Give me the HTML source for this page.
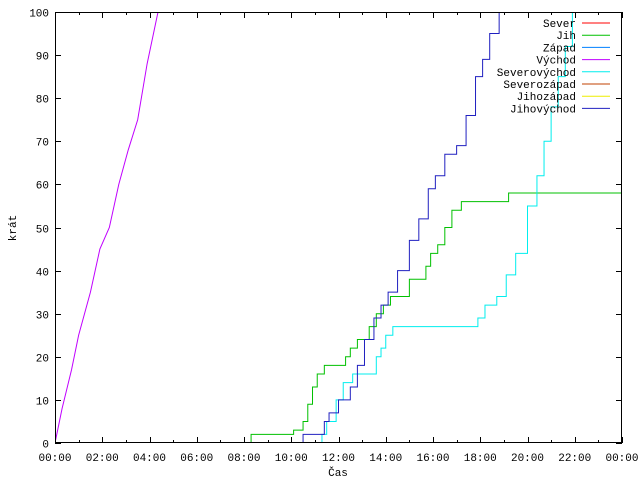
<!DOCTYPE html>
<html><head><meta charset="utf-8"><style>
body{margin:0;background:#fff}
svg{display:block;font-family:"Liberation Mono","DejaVu Sans Mono",monospace;font-size:11px}
</style></head><body>
<svg id="chart" width="640" height="480" xmlns="http://www.w3.org/2000/svg">
<rect width="640" height="480" fill="#fff"/>
<g id="series"></g>
<g id="axes"></g>
<g id="legend"></g>
<text x="338" y="476" text-anchor="middle">Čas</text>
<text x="16" y="228" text-anchor="middle" transform="rotate(-90 16 228)">krát</text>
</svg>
<script>
const yTicks=[0,10,20,30,40,50,60,70,80,90,100];
const xTickLabels=["00:00","02:00","04:00","06:00","08:00","10:00","12:00","14:00","16:00","18:00","20:00","22:00","00:00"];
const seriesNames=["Sever","Jih","Západ","Východ","Severovýchod","Severozápad","Jihozápad","Jihovýchod"];
const seriesColors=["#ff0000","#00c000","#0080ff","#c000ff","#00eeee","#c04000","#eeee00","#2020c0"];
// [hour, value] step data
const jihH=[0,8.3,10.1,10.5,10.7,10.9,11.1,11.4,12.3,12.5,12.8,13.3,13.6,13.9,14.2,15.0,15.7,15.9,16.2,16.5,16.8,17.2,19.2,24];
const jihV=[0,2,3,5,9,13,16,18,20,22,24,27,30,32,34,38,41,44,46,50,54,56,58,58];
const vychodH=[0,0.3,0.7,1.0,1.5,1.9,2.3,2.7,3.1,3.5,3.9,4.36];
const vychodV=[0,8,17,25,35,45,50,60,68,75,88,100];
const svH=[0,11.3,11.5,11.9,12.2,12.6,13.3,13.6,13.8,14.0,14.3,16.8,17.9,18.2,18.7,19.1,19.5,20.0,20.4,20.7,21.0,21.3,21.6,21.9];
const svV=[0,2,5,10,14,16,16,20,22,25,27,27,29,32,34,39,44,55,62,70,78,85,92,100];
const jvH=[0,10.5,11.4,11.6,12.0,12.5,12.8,13.1,13.5,13.8,14.1,14.5,15.0,15.4,15.8,16.1,16.5,17.0,17.4,17.8,18.1,18.4,18.8];
const jvV=[0,2,5,7,10,13,18,24,29,32,35,40,47,52,59,62,67,69,76,85,89,95,100];

const X0=55,X1=622,Y0=443,Y1=12;
const xs=h=>X0+h/24*(X1-X0);
const ys=v=>Y0-v/100*(Y0-Y1);
const NS="http://www.w3.org/2000/svg";
function mk(tag,attrs,parent){const e=document.createElementNS(NS,tag);for(const k in attrs)e.setAttribute(k,attrs[k]);parent.appendChild(e);return e;}
const axes=document.getElementById('axes'),ser=document.getElementById('series'),leg=document.getElementById('legend');

function drawSteps(H,V,color,name,smooth){
  let d="M"+xs(H[0])+","+ys(V[0]);
  for(let i=1;i<H.length;i++){
    if(smooth) d+=" L"+xs(H[i])+","+ys(V[i]);
    else d+=" L"+xs(H[i])+","+ys(V[i-1])+" L"+xs(H[i])+","+ys(V[i]);
  }
  const p=mk('path',{d:d,fill:'none',stroke:color,'stroke-width':1},ser);
  
  
}
const cp=mk('clipPath',{id:'clip'},document.getElementById('chart'));
mk('rect',{x:X0,y:Y1,width:X1-X0,height:Y0-Y1},cp);
ser.setAttribute('clip-path','url(#clip)');
drawSteps(vychodH,vychodV,seriesColors[3],'line-vychod',true);
drawSteps(jihH,jihV,seriesColors[1],'line-jih',false);
drawSteps(svH,svV,seriesColors[4],'line-severovychod',false);
drawSteps(jvH,jvV,seriesColors[7],'line-jihovychod',false);

mk('rect',{x:X0+.5,y:Y1+.5,width:X1-X0-1,height:Y0-Y1-1,fill:'none',stroke:'#000'},axes);
yTicks.forEach(v=>{
  const y=Math.round(ys(v))+.5;
  mk('line',{x1:X0,x2:X0+6,y1:y,y2:y,stroke:'#000'},axes);
  mk('line',{x1:X1-6,x2:X1,y1:y,y2:y,stroke:'#000'},axes);
  const t=mk('text',{x:X0-6,y:y+4,'text-anchor':'end'},axes);t.textContent=v;
  
  
});
for(let h=0;h<=24;h++){
  const x=Math.round(xs(h))+.5,len=h%2===0?6:3;
  mk('line',{x1:x,x2:x,y1:Y0,y2:Y0-len,stroke:'#000'},axes);
  mk('line',{x1:x,x2:x,y1:Y1,y2:Y1+len,stroke:'#000'},axes);
}
xTickLabels.forEach((s,i)=>{
  const t=mk('text',{x:xs(i*2),y:Y0+18,'text-anchor':'middle'},axes);t.textContent=s;
  
  
});
seriesNames.forEach((n,i)=>{
  const y=23+i*12.2;
  const t=mk('text',{x:576,y:y+4,'text-anchor':'end'},leg);t.textContent=n;
  
  
  mk('line',{x1:582,x2:610,y1:y,y2:y,stroke:seriesColors[i]},leg);
});
</script>
</body></html>
